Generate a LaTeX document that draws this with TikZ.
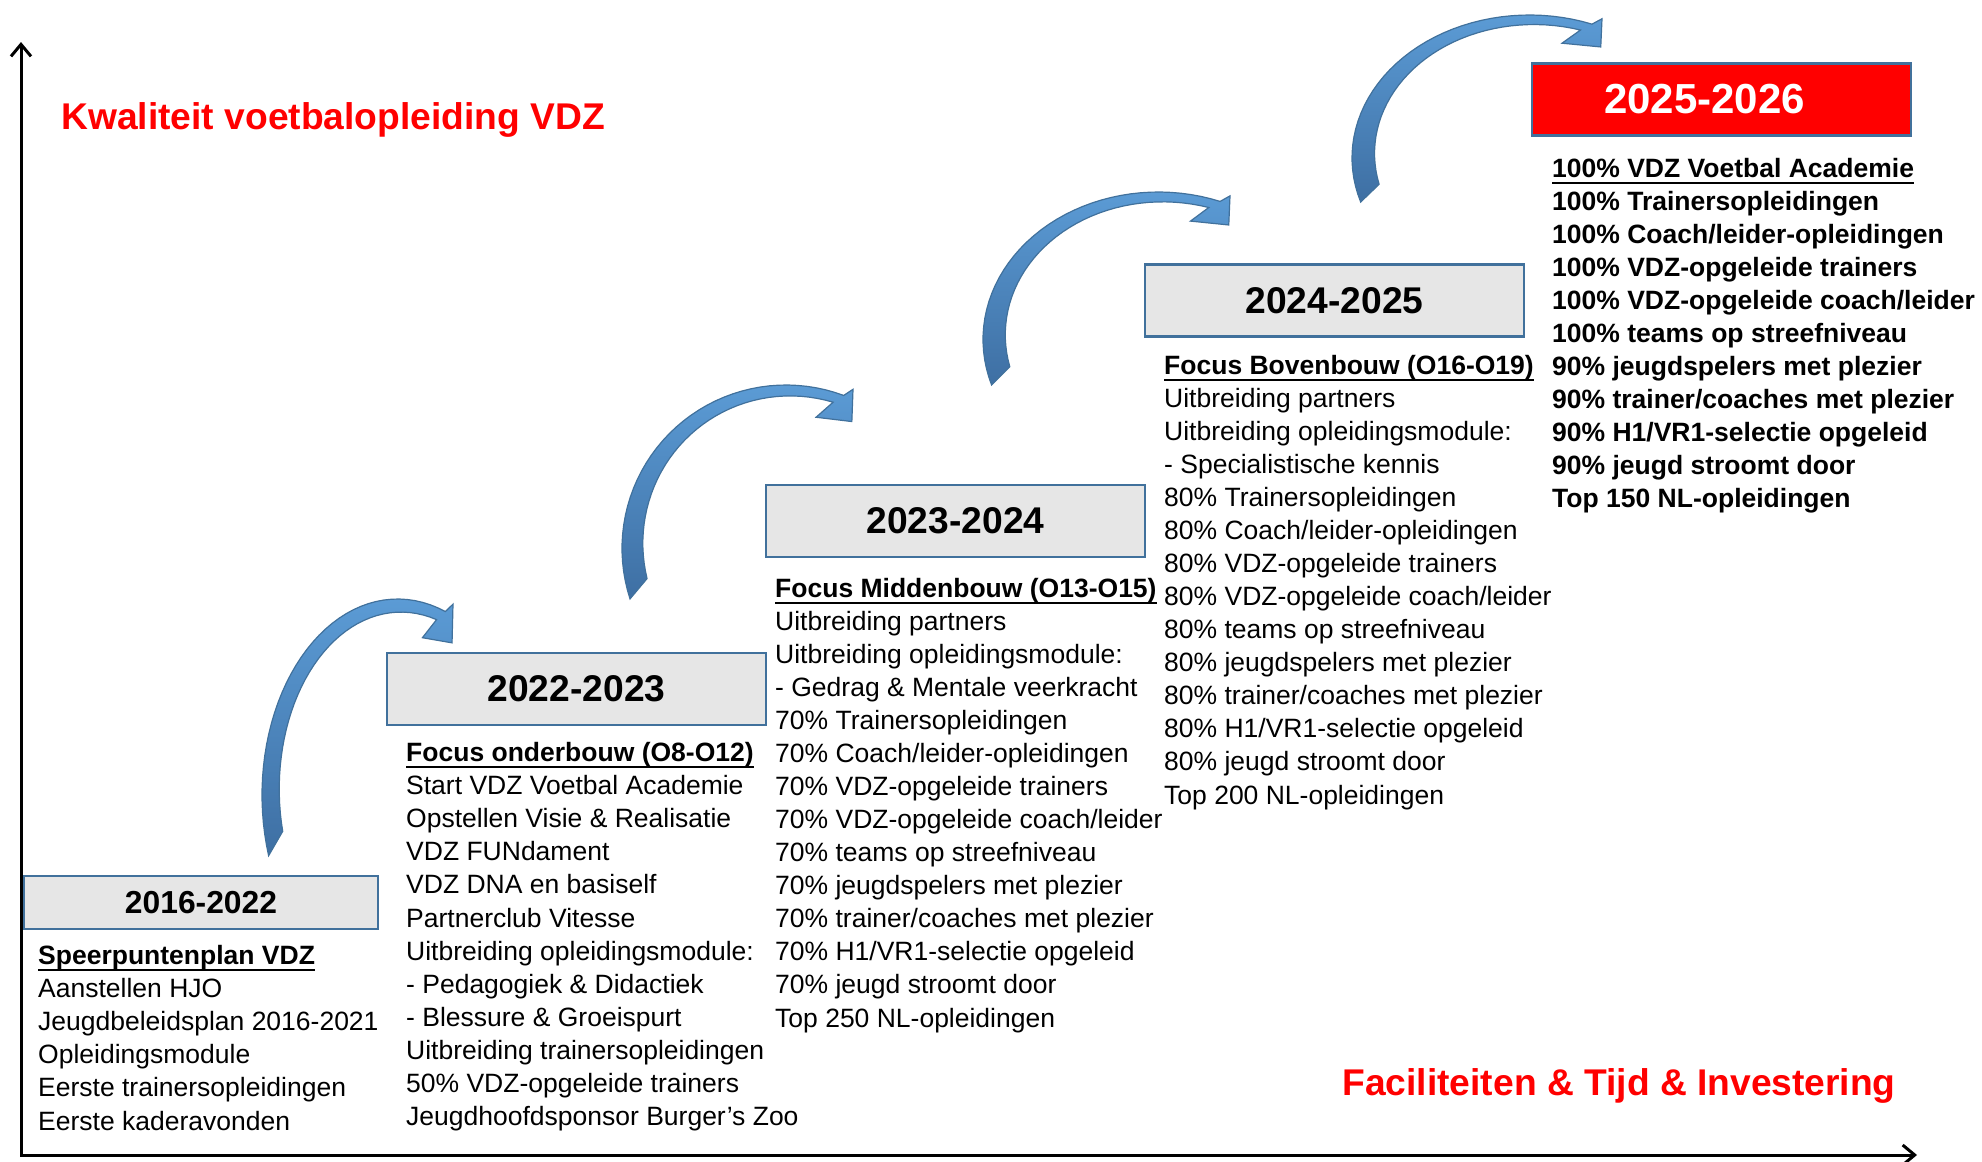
\documentclass[tikz,border=0pt]{standalone}
\usepackage{fontspec}
\setmainfont{Liberation Sans}
\usepackage{xcolor}
\usetikzlibrary{positioning,arrows.meta}

\definecolor{boxgray}{HTML}{E6E6E6}
\definecolor{boxedge}{HTML}{41719C}
\definecolor{arrowlight}{HTML}{5B9BD5}
\definecolor{arrowdark}{HTML}{3E6FA3}
\definecolor{vdzred}{HTML}{FF0000}

% bold heading line with a heavy underline
\newcommand{\focusline}[1]{\setbox0\hbox{\textbf{#1}}\rlap{\rule[-3.2pt]{\wd0}{1pt}}\box0}

% curved step arrow in a unit box: x, y, width, height (pixels)
\newcommand{\steparrow}[4]{%
  \begin{scope}[shift={(#1,#2)},xscale=#3,yscale=#4]
    \draw[arrowbody] plot[domain=198:69.4,samples=40] ({0.71+0.71*cos(\x)},{0.76-0.76*sin(\x)})
      -- (1.0,0.02) -- (0.995,0.17) -- (0.84,0.15)
      -- plot[domain=72:192,samples=40] ({0.71+(0.66-0.045*(\x-72)/120)*cos(\x)},{0.76-(0.715-0.04*(\x-72)/120)*sin(\x)})
      -- cycle;
  \end{scope}}

\begin{document}
\begin{tikzpicture}[x=0.5pt,y=-0.5pt,
    axisline/.style={line width=1.5pt, {Straight Barb[length=6pt,width=10pt]}-{Straight Barb[length=6pt,width=10pt]}},
    arrowbody/.style={draw=boxedge, line width=0.6pt, top color=arrowlight, bottom color=arrowdark},
    yearbox/.style={draw=boxedge, line width=1.2pt, fill=boxgray, inner sep=0pt,
      minimum width=189.5pt, minimum height=36pt, font=\fontsize{18.6pt}{22pt}\selectfont\bfseries},
    goalbox/.style={yearbox, fill=vdzred, text=white, font=\fontsize{21pt}{25pt}\selectfont\bfseries},
    col/.style={inner sep=0pt, align=left, font=\fontsize{13.25pt}{16.53pt}\selectfont},
    headline/.style={inner sep=0pt, text=vdzred, font=\fontsize{18.6pt}{22pt}\selectfont\bfseries}]
    \useasboundingbox (0,0) rectangle (1982,1162);

    % Axes
    \coordinate (ytop) at (21,42);
    \coordinate (origin) at (21,1155);
    \coordinate (xend) at (1917,1155);
    \draw[axisline] (ytop) -- (origin) -- (xend);

    \node[headline, anchor=base west] (quality) at (61,129) {Kwaliteit voetbalopleiding VDZ};
    \node[headline, anchor=base west] (means) at (1342,1095) {Faciliteiten \& Tijd \& Investering};

    % Steps
    \steparrow{262}{599}{191}{258}
    \steparrow{622}{385}{231}{215}
    \steparrow{983}{192}{247}{194}
    \steparrow{1352}{15}{250}{188}

    \node[yearbox, minimum width=177pt, minimum height=26.5pt, font=\fontsize{15.9pt}{19pt}\selectfont\bfseries] (y1) at (201,902.5) {2016-2022};
    \node[yearbox] (y2) at (576.5,689) {2022-2023};
    \node[yearbox] (y3) at (955.5,521) {2023-2024};
    \node[yearbox] (y4) at (1334.5,300.5) {2024-2025};
    \node[goalbox] (y5) at (1721.5,99.5) {\hspace*{-17pt}2025-2026};

    % Contents per step
    \node[col, below right=5.5pt and 7.5pt of y1.south west] (t1) {\strut\focusline{Speerpuntenplan VDZ}\\
      Aanstellen HJO\\
      Jeugdbeleidsplan 2016-2021\\
      Opleidingsmodule\\
      Eerste trainersopleidingen\\
      Eerste kaderavonden};

    \node[col, below right=6pt and 10pt of y2.south west] (t2) {\strut\focusline{Focus onderbouw (O8-O12)}\\
      Start VDZ Voetbal Academie\\
      Opstellen Visie \& Realisatie\\
      VDZ FUNdament\\
      VDZ DNA en basiself\\
      Partnerclub Vitesse\\
      Uitbreiding opleidingsmodule:\\
      - Pedagogiek \& Didactiek\\
      - Blessure \& Groeispurt\\
      Uitbreiding trainersopleidingen\\
      50\% VDZ-opgeleide trainers\\
      Jeugdhoofdsponsor Burger’s Zoo};

    \node[col, below right=7.75pt and 5pt of y3.south west] (t3) {\strut\focusline{Focus Middenbouw (O13-O15)}\\
      Uitbreiding partners\\
      Uitbreiding opleidingsmodule:\\
      - Gedrag \& Mentale veerkracht\\
      70\% Trainersopleidingen\\
      70\% Coach/leider-opleidingen\\
      70\% VDZ-opgeleide trainers\\
      70\% VDZ-opgeleide coach/leider\\
      70\% teams op streefniveau\\
      70\% jeugdspelers met plezier\\
      70\% trainer/coaches met plezier\\
      70\% H1/VR1-selectie opgeleid\\
      70\% jeugd stroomt door\\
      Top 250 NL-opleidingen};

    \node[col, below right=6.5pt and 10pt of y4.south west] (t4) {\strut\focusline{Focus Bovenbouw (O16-O19)}\\
      Uitbreiding partners\\
      Uitbreiding opleidingsmodule:\\
      - Specialistische kennis\\
      80\% Trainersopleidingen\\
      80\% Coach/leider-opleidingen\\
      80\% VDZ-opgeleide trainers\\
      80\% VDZ-opgeleide coach/leider\\
      80\% teams op streefniveau\\
      80\% jeugdspelers met plezier\\
      80\% trainer/coaches met plezier\\
      80\% H1/VR1-selectie opgeleid\\
      80\% jeugd stroomt door\\
      Top 200 NL-opleidingen};

    \node[col, font=\fontsize{13.25pt}{16.53pt}\selectfont\bfseries, below right=8.5pt and 10.5pt of y5.south west] (t5) {\strut\focusline{100\% VDZ Voetbal Academie}\\
      100\% Trainersopleidingen\\
      100\% Coach/leider-opleidingen\\
      100\% VDZ-opgeleide trainers\\
      100\% VDZ-opgeleide coach/leider\\
      100\% teams op streefniveau\\
      90\% jeugdspelers met plezier\\
      90\% trainer/coaches met plezier\\
      90\% H1/VR1-selectie opgeleid\\
      90\% jeugd stroomt door\\
      Top 150 NL-opleidingen};
\end{tikzpicture}
\end{document}
